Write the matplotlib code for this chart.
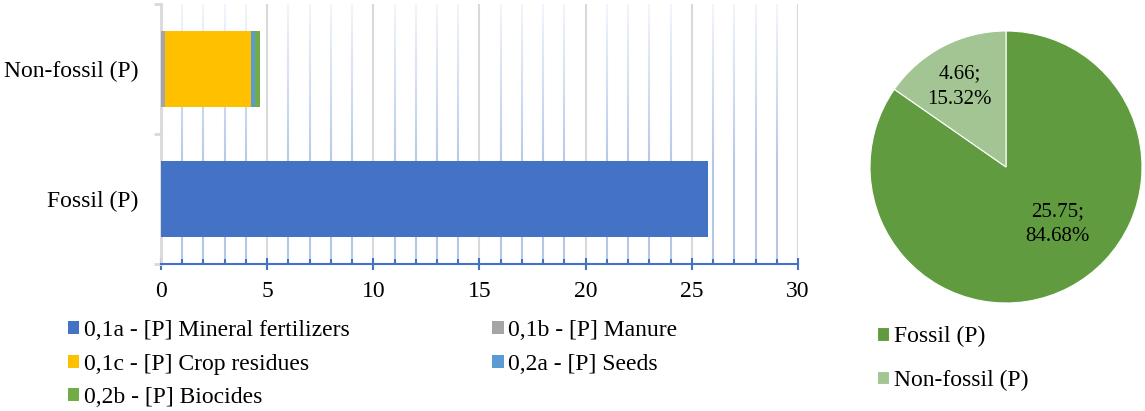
import matplotlib
matplotlib.use("Agg")
import matplotlib.pyplot as plt
from matplotlib.collections import LineCollection
from matplotlib.colors import to_rgb
import numpy as np

plt.rcParams['font.family'] = ['Liberation Serif', 'DejaVu Serif']

categories = ["Fossil (P)", "Non-fossil (P)"]
series_names = ["0,1a - [P] Mineral fertilizers", "0,1b - [P] Manure",
                "0,1c - [P] Crop residues", "0,2a - [P] Seeds", "0,2b - [P] Biocides"]
mineral = [25.75, 0.0]
manure = [0.0, 0.18]
crop_residues = [0.0, 4.04]
seeds = [0.0, 0.23]
biocides = [0.0, 0.21]
series_colors = ["#4472C4", "#A5A5A5", "#FFC000", "#5B9BD5", "#70AD47"]

pie_labels = ["Fossil (P)", "Non-fossil (P)"]
pie_values = [25.75, 4.66]
pie_colors = ["#609C3F", "#A2C593"]

W, H = 1145, 411
FS = 17
fig = plt.figure(figsize=(W/100, H/100), dpi=100)

ax = fig.add_axes([161/W, 1-264/H, (798-161)/W, (264-4)/H])
ypos = np.arange(len(categories))
left = np.zeros(len(categories))
handles = []
for name, vals, col in zip(series_names, [mineral, manure, crop_residues, seeds, biocides], series_colors):
    b = ax.barh(ypos, vals, left=left, height=0.58, color=col, label=name, zorder=3)
    left += np.array(vals)
    handles.append(b)

ax.set_xlim(0, 30)
ax.set_ylim(-0.5, 1.5)
ax.set_yticks([-0.5, 0.5, 1.5], minor=False)
ax.set_yticklabels([])
ax.set_yticks(ypos, minor=True)
ax.set_yticklabels(categories, minor=True, fontsize=FS)
ax.tick_params(axis='y', which='minor', length=0, pad=16.5)
ax.tick_params(axis='y', which='major', length=5, color='#D9D9D9', width=2, direction='out')

ax.set_xticks(np.arange(0, 31, 5))
ax.set_xticks(np.arange(0, 31, 1), minor=True)
ax.tick_params(axis='x', which='major', length=8, direction='inout', color='#4472C4', width=1.5, labelsize=FS, pad=8)
ax.tick_params(axis='x', which='minor', length=3.6, direction='in', color='#4472C4', width=1.5)

# gridlines: grey major, fading light-blue minor
top_c = np.array(to_rgb('#F2F5FB'))
bot_c = np.array(to_rgb('#B4C7E7'))
nseg = 40
ys = np.linspace(1, 0, nseg + 1)
segs, cols = [], []
for x in range(31):
    if x % 5 == 0:
        ax.axvline(x, color='#D9D9D9', lw=1.5, zorder=1)
    else:
        for i in range(nseg):
            segs.append([(x, ys[i]), (x, ys[i + 1])])
            t = (i + 0.5) / nseg
            t = min(1.0, t * 1.6)
            cols.append(top_c * (1 - t) + bot_c * t)
lc = LineCollection(segs, colors=cols, linewidths=1.5, transform=ax.get_xaxis_transform(), zorder=1)
ax.add_collection(lc)

for s in ['top', 'right']:
    ax.spines[s].set_visible(False)
ax.spines['bottom'].set_color('#4472C4')
ax.spines['bottom'].set_linewidth(1.5)
ax.spines['left'].set_color('#D9D9D9')
ax.spines['left'].set_linewidth(2)

order = [0, 2, 4, 1, 3]
fig.legend([handles[i] for i in order], [series_names[i] for i in order],
           loc='upper left', bbox_to_anchor=(68/W, 1-320/H), ncol=2, frameon=False,
           borderpad=0, borderaxespad=0,
           fontsize=FS, handlelength=0.47, handleheight=0.47, handletextpad=0.2,
           columnspacing=6.05, labelspacing=0.53)

pax = fig.add_axes([(1006-136)/W, (411-167-136)/H, 272/W, 272/H])
wedges, _ = pax.pie(pie_values, colors=pie_colors, startangle=90, counterclock=False,
                    wedgeprops=dict(edgecolor='white', linewidth=0.8))
pax.set_xlim(-1, 1)
pax.set_ylim(-1, 1)
pax.set_aspect('equal')
total = sum(pie_values)
label_pos = [(0.38, -0.42), (-0.34, 0.59)]
for w, v, (lx, ly) in zip(wedges, pie_values, label_pos):
    pax.text(lx, ly, f"{v:.2f};\n{v/total*100:.2f}%",
             ha='center', va='center', fontsize=15, linespacing=1.45)

fig.legend(wedges, pie_labels, loc='upper left', bbox_to_anchor=(877/W, 1-326/H),
           frameon=False, borderpad=0, borderaxespad=0, fontsize=FS,
           handlelength=0.5, handleheight=0.5, handletextpad=0.2, labelspacing=0.95)

fig.savefig("out.png", dpi=100)
